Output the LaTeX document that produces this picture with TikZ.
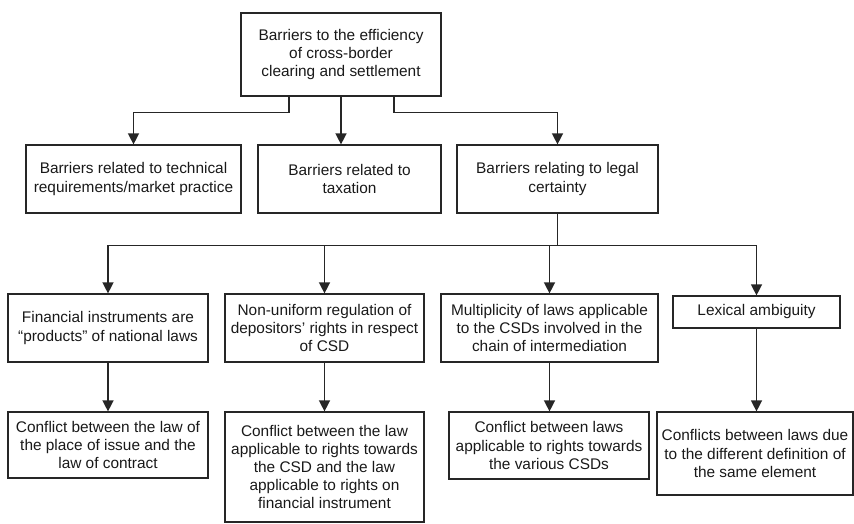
\documentclass[tikz,border=0pt]{standalone}
\usepackage{fontspec}
\setmainfont{Liberation Sans}
\usetikzlibrary{arrows.meta}

\begin{document}
\begin{tikzpicture}[x=1pt, y=-1pt,
  box/.style={draw=black!85, line width=1.2pt, align=center, inner sep=0pt,
    font=\fontsize{15.4}{18.2}\selectfont, text=black!90},
  arr/.style={draw=black!85, line width=1.4pt, -{Triangle[length=11pt,width=11pt]}},
  link/.style={draw=black!85, line width=1.4pt}]
\useasboundingbox (0,0) rectangle (854,524);

\node[box, minimum width=200pt, minimum height=83pt] (top) at (341,54.5) {Barriers to the efficiency\\ of cross-border\\ clearing and settlement};

\node[box, minimum width=215pt, minimum height=68pt] (tech) at (133.5,179) {Barriers related to technical\\ requirements/market practice};
\node[box, minimum width=183pt, minimum height=68pt] (tax) at (349.5,179) {Barriers related to\\ taxation};
\node[box, minimum width=201pt, minimum height=68pt] (legal) at (557.5,179) {Barriers relating to legal\\ certainty};

\node[box, minimum width=200pt, minimum height=68pt] (fin) at (108,328) {Financial instruments are\\ ``products'' of national laws};
\node[box, minimum width=199pt, minimum height=68pt] (dep) at (324.5,328) {Non-uniform regulation of\\ depositors' rights in respect\\ of CSD};
\node[box, minimum width=217pt, minimum height=68pt] (mult) at (549.5,328) {Multiplicity of laws applicable\\ to the CSDs involved in the\\ chain of intermediation};
\node[box, minimum width=167pt, minimum height=32pt] (lex) at (756.5,312) {Lexical ambiguity};

\node[box, minimum width=200pt, minimum height=66pt] (issue) at (108,445) {Conflict between the law of\\ the place of issue and the\\ law of contract};
\node[box, minimum width=199pt, minimum height=110pt] (csd) at (324.5,467) {Conflict between the law\\ applicable to rights towards\\ the CSD and the law\\ applicable to rights on\\ financial instrument};
\node[box, minimum width=200pt, minimum height=67pt] (various) at (549,445.5) {Conflict between laws\\ applicable to rights towards\\ the various CSDs};
\node[box, minimum width=196pt, minimum height=83pt] (defn) at (755,453.5) {Conflicts between laws due\\ to the different definition of\\ the same element};

\draw[arr] ([xshift=-52pt]top.south) -- ++(0,16) -| (tech.north);
\draw[arr] (top.south) -- (top.south |- tax.north);
\draw[arr] ([xshift=53pt]top.south) -- ++(0,16) -| (legal.north);

\draw[link] (legal.south) -- ++(0,32) coordinate (bus);
\draw[arr] (bus) -| (fin.north);
\draw[arr] (bus) -| (dep.north);
\draw[arr] (bus) -| (mult.north);
\draw[arr] (bus) -| (lex.north);

\draw[arr] (fin.south) -- (fin.south |- issue.north);
\draw[arr] (dep.south) -- (dep.south |- csd.north);
\draw[arr] (mult.south) -- (mult.south |- various.north);
\draw[arr] (lex.south) -- (lex.south |- defn.north);
\end{tikzpicture}
\end{document}
